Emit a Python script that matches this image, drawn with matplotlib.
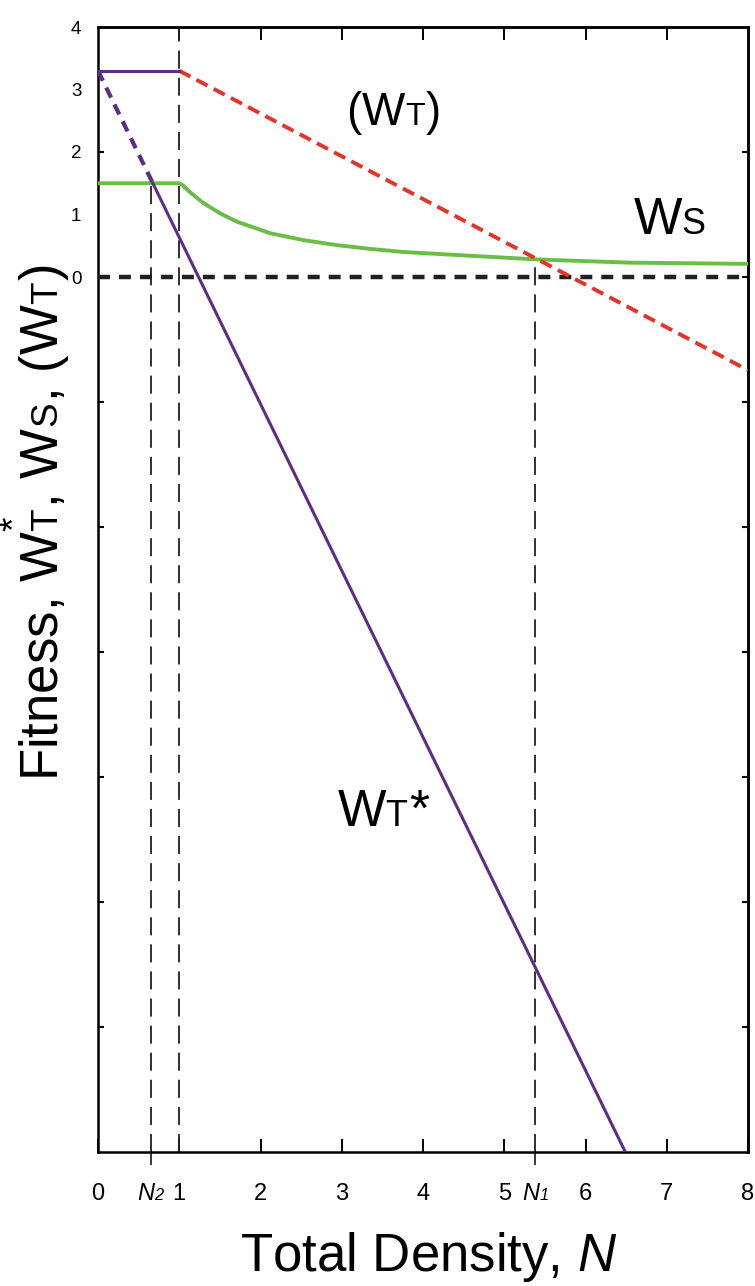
import matplotlib
matplotlib.use("Agg")
import matplotlib.pyplot as plt
from matplotlib import font_manager as fm
from matplotlib import lines as mlines

# keep subscripts on the baseline (as in the reference artwork)
try:
    import matplotlib._mathtext as _mt
    _mt.FontConstantsBase.sub1 = 0.0
    _mt.FontConstantsBase.sub2 = 0.0
except Exception:
    pass

_names = {f.name for f in fm.fontManager.ttflist}
NARROW = "Liberation Sans Narrow" if "Liberation Sans Narrow" in _names else "Liberation Sans"

plt.rcParams["font.family"] = ["Liberation Sans", "DejaVu Sans"]
plt.rcParams["mathtext.fontset"] = "custom"
plt.rcParams["mathtext.rm"] = "Liberation Sans"
plt.rcParams["mathtext.it"] = "Liberation Sans:italic"
plt.rcParams["mathtext.sf"] = NARROW + ":italic"
plt.rcParams["lines.scale_dashes"] = False

# ---------------- data ----------------
N2 = 0.65
N1 = 5.38

# W_T* (purple): plateau, then dashed down to N2, solid afterwards
wt_flat_N = [0.0, 1.0]
wt_flat = [3.3, 3.3]
wt_star_N = [0.0, 0.675, 6.49]
wt_star = [3.3, 1.5, -14.0]

# (W_T) (red dashed)
wt_N = [1.0, 8.0]
wt = [3.3, -1.49]

# W_S (green)
ws_N = [0.0, 1.0, 1.05, 1.13, 1.29, 1.5, 1.71, 2.12, 2.53, 2.94, 3.35,
        3.76, 4.17, 4.58, 5.42, 6.54, 8.0]
ws = [1.5, 1.5, 1.46, 1.36, 1.19, 1.02, 0.885, 0.70, 0.59, 0.51, 0.45,
      0.40, 0.37, 0.34, 0.28, 0.23, 0.21]

x_ticks = [0, N2, 1, 2, 3, 4, 5, N1, 6, 7, 8]
x_tick_labels = ["0", r"$\mathsf{N}_{\mathsf{2}}$", "1", "2", "3", "4", "5",
                 r"$\mathsf{N}_{\mathsf{1}}$", "6", "7", "8"]
y_ticks = [-12, -10, -8, -6, -4, -2, 0, 1, 2, 3, 4]
y_tick_labels = ["", "", "", "", "", "", "0", "1", "2", "3", "4"]
y_ticks_right = [-12, -10, -8, -6, -4, -2, 0, 2]
top_ticks = [1, 2, 3, 4, 5, 6, 7]

PURPLE = "#5C2D83"
GREEN = "#6ABD45"
RED = "#E5332A"
BLACK = "#231F20"

fig = plt.figure(figsize=(7.55, 12.86), dpi=100)
ax = fig.add_axes([98 / 755, 1 - 1152 / 1286, 650 / 755, 1125 / 1286])
ax.set_xlim(0, 8)
ax.set_ylim(-14, 4)

# vertical reference lines
vdash = (13, 6.5)
ax.plot([N2, N2], [-14, 1.5], color=BLACK, lw=1.3, dashes=vdash, zorder=2)
ax.plot([1, 1], [-14, 4], color=BLACK, lw=1.3, dashes=vdash, zorder=2)
ax.plot([N1, N1], [-14, 0.28], color=BLACK, lw=1.3, dashes=vdash, zorder=2)

# zero line
ax.plot([0, 8], [0, 0], color=BLACK, lw=3.2, dashes=(8.6, 6.5), zorder=3)

# curves
ax.plot(ws_N, ws, color=GREEN, lw=2.8, zorder=4, solid_joinstyle="round")
ax.plot(wt_N, wt, color=RED, lw=2.8, dashes=(9, 5), zorder=4)
ax.plot(wt_flat_N, wt_flat, color=PURPLE, lw=2.2, zorder=5)
ax.plot(wt_star_N[:2], wt_star[:2], color=PURPLE, lw=3.0, dashes=(8, 5.5), zorder=5)
ax.plot(wt_star_N[1:], wt_star[1:], color=PURPLE, lw=2.2, zorder=5)

# curve labels
ax.text(3.63, 2.62, r"($\mathrm{W}_{\mathrm{T}}$)", fontsize=33, ha="center", va="center")
ax.text(7.04, 0.91, r"$\mathrm{W}_{\mathrm{S}}$", fontsize=37, ha="center", va="center")
ax.text(3.52, -8.56, r"$\mathrm{W}_{\mathrm{T}}$*", fontsize=37, ha="center", va="center")

# spines / ticks
for s in ax.spines.values():
    s.set_linewidth(1.8)
    s.set_color("black")

ax.set_xticks(x_ticks)
ax.set_xticklabels(x_tick_labels, fontfamily=NARROW, fontsize=17)
ax.set_yticks(y_ticks)
ax.set_yticklabels(y_tick_labels, fontsize=13.5)
ax.tick_params(axis="x", direction="in", length=9.4, width=1.4, pad=22, top=False)
ax.tick_params(axis="y", direction="in", length=4.3, width=1.5, pad=12, right=False)

for tick in ax.xaxis.get_major_ticks():
    loc = tick.get_loc()
    if abs(loc - N2) < 1e-9 or abs(loc - N1) < 1e-9:
        tick.tick1line.set_marker(mlines.TICKDOWN)
        tick.tick1line.set_markeredgewidth(1.1)
for tick in ax.yaxis.get_major_ticks():
    if tick.get_loc() in (1, 3, 4):
        tick.tick1line.set_visible(False)

top = ax.secondary_xaxis("top")
top.set_xticks(top_ticks)
top.set_xticklabels([])
top.tick_params(direction="in", length=9.4, width=1.4)
top.spines["top"].set_linewidth(1.8)

right = ax.secondary_yaxis("right")
right.set_yticks(y_ticks_right)
right.set_yticklabels([])
right.tick_params(direction="in", length=4.3, width=1.5)
right.spines["right"].set_linewidth(1.8)

# axis titles
fig.text(0.5682, 1 - 1271 / 1286, r"Total Density, $\mathit{N}$", fontsize=38,
         ha="center", va="baseline")
fig.text(0.047, 1 - 523 / 1286,
         r"Fitness, $\mathrm{W}_{\mathrm{T}}^{*}$, $\mathrm{W}_{\mathrm{S}}$, ($\mathrm{W}_{\mathrm{T}}$)",
         fontsize=38, rotation=90, ha="center", va="center")

fig.savefig("out.png", dpi=100)
